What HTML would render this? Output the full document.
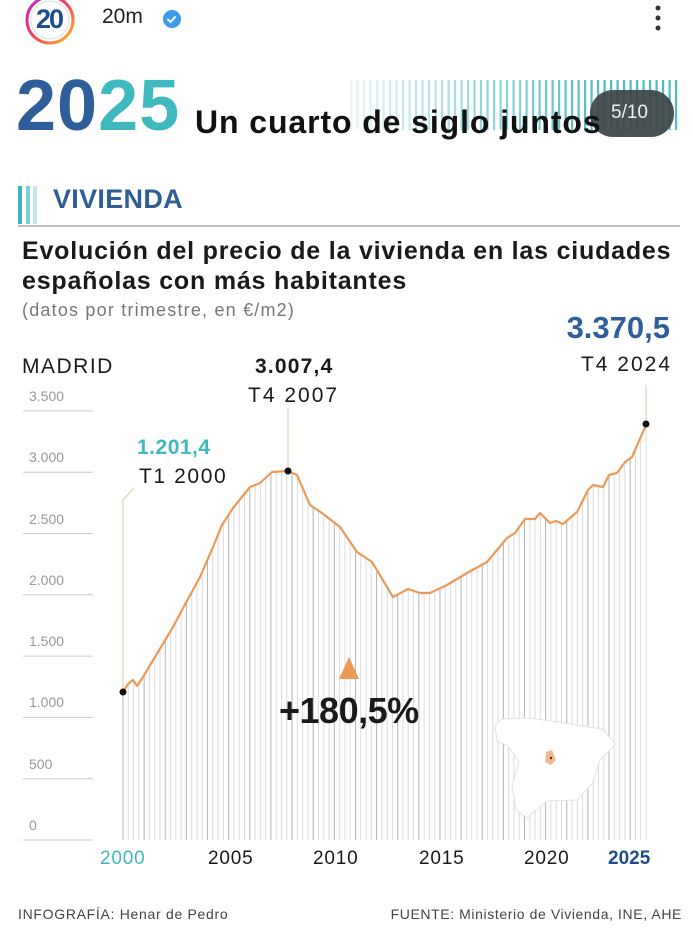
<!DOCTYPE html>
<html><head><meta charset="utf-8">
<style>
body{margin:0;width:693px;height:933px;background:#fff;overflow:hidden;font-family:"Liberation Sans",sans-serif;position:relative}
.a{position:absolute;white-space:nowrap}
</style></head><body>
<svg width="693" height="933" style="position:absolute;left:0;top:0">
<defs><linearGradient id="g" x1="0" y1="0" x2="1" y2="1"><stop offset="0" stop-color="#c026d3"/><stop offset="0.5" stop-color="#f43f5e"/><stop offset="1" stop-color="#fbbf24"/></linearGradient></defs>
<circle cx="50" cy="20" r="23" fill="none" stroke="url(#g)" stroke-width="3"/>
<circle cx="50" cy="20" r="19" fill="#fff" stroke="#ddd" stroke-width="1"/>
<circle cx="172" cy="19" r="9" fill="#3b9be8"/>
<path d="M167.5 19l3 3 5-5.5" stroke="#fff" stroke-width="2" fill="none"/>
<circle cx="658" cy="8" r="2.5" fill="#333"/><circle cx="658" cy="18" r="2.5" fill="#333"/><circle cx="658" cy="28" r="2.5" fill="#333"/>
<g id="stripes"></g>
<rect x="590" y="90" width="84" height="47" rx="23" fill="#3d4447" opacity="0.92"/>
<rect x="18" y="186" width="4" height="38" fill="#3db6c0"/><rect x="26" y="186" width="4" height="38" fill="#7fd0d6"/><rect x="33" y="186" width="4" height="38" fill="#c3e9ec"/>
<line x1="18" y1="226" x2="680" y2="226" stroke="#aaa" stroke-width="1.5"/>
<g id="grid"></g>
<g id="bars"></g>
<path d="M495,725 L502,719 L530,718 L570,724 L602,729 L616,744 L600,760 L592,784 L577,800 L547,801 L527,818 L516,810 L512,786 L519,762 L508,746 L497,741Z" fill="#fff" stroke="#e4e4e4" stroke-width="1"/>
<path d="M546,752 L552,750 L556,760 L551,765 L545,762Z" fill="#f2b98c"/>
<circle cx="551" cy="758" r="1.2" fill="#333"/>
<line x1="123" y1="692" x2="123" y2="500" stroke="#e0c8a8" stroke-width="1"/>
<line x1="123" y1="500" x2="134" y2="488" stroke="#e0c8a8" stroke-width="1"/>
<line x1="288" y1="409" x2="288" y2="471" stroke="#e0c8a8" stroke-width="1"/>
<line x1="646" y1="385" x2="646" y2="427" stroke="#e0c8a8" stroke-width="1"/>
<polyline id="line" fill="none" stroke="#eb9a57" stroke-width="2.2" stroke-linejoin="round"/>
<circle cx="123" cy="692" r="3.5" fill="#111"/><circle cx="288" cy="471" r="3.5" fill="#111"/><circle cx="646" cy="424" r="3.5" fill="#111"/>
<polygon points="339,679 349,657 359,679" fill="#eb9a57"/>
</svg>
<div class="a" style="left:36px;top:4px;font-size:27px;font-weight:bold;color:#1f4e8f;letter-spacing:-2px">20</div>
<div class="a" style="left:102px;top:5px;font-size:21px;color:#222">20m</div>
<div class="a" style="left:16px;top:66px;font-size:72px;font-weight:bold;letter-spacing:1px;line-height:80px"><span style="color:#2f5f9a">20</span><span style="color:#3fb8c0">25</span></div>
<div class="a" style="left:195px;top:104px;font-size:32px;font-weight:bold;color:#111;letter-spacing:0.9px">Un cuarto de siglo juntos</div>
<div class="a" style="left:611px;top:102px;font-size:19px;color:#eee">5/10</div>
<div class="a" style="left:53px;top:184px;font-size:27px;font-weight:bold;color:#2e5e95;letter-spacing:0.3px">VIVIENDA</div>
<div class="a" style="left:22px;top:236px;font-size:25px;font-weight:bold;color:#1a1a1a;line-height:30px;letter-spacing:0.8px">Evolución del precio de la vivienda en las ciudades<br>españolas con más habitantes</div>
<div class="a" style="left:22px;top:300px;font-size:18px;color:#777;letter-spacing:1.2px">(datos por trimestre, en €/m2)</div>
<div class="a" style="left:22px;top:355px;font-size:21px;color:#1a1a1a;letter-spacing:1.5px">MADRID</div>
<div class="a" style="left:255px;top:355px;font-size:21px;font-weight:bold;color:#1a1a1a;letter-spacing:1.2px">3.007,4</div>
<div class="a" style="left:248px;top:384px;font-size:21px;color:#1a1a1a;letter-spacing:2px">T4 2007</div>
<div class="a" style="left:137px;top:436px;font-size:21px;font-weight:bold;color:#3fb8c0;letter-spacing:0.5px">1.201,4</div>
<div class="a" style="left:139px;top:465px;font-size:21px;color:#1a1a1a;letter-spacing:1.6px">T1 2000</div>
<div class="a" style="right:23px;top:310px;font-size:31px;font-weight:bold;color:#2f5f9a">3.370,5</div>
<div class="a" style="right:21px;top:353px;font-size:21px;color:#1a1a1a;letter-spacing:2px">T4 2024</div>
<div class="a" style="left:279px;top:690px;font-size:36px;font-weight:bold;color:#1a1a1a;letter-spacing:-0.5px">+180,5%</div>
<div id="ylab"></div>
<div class="a" style="left:100px;top:848px;font-size:19px;color:#3fb8c0;letter-spacing:0.8px">2000</div>
<div class="a" style="left:208px;top:848px;font-size:19px;color:#1a1a1a;letter-spacing:0.8px">2005</div>
<div class="a" style="left:313px;top:848px;font-size:19px;color:#1a1a1a;letter-spacing:0.8px">2010</div>
<div class="a" style="left:419px;top:848px;font-size:19px;color:#1a1a1a;letter-spacing:0.8px">2015</div>
<div class="a" style="left:524px;top:848px;font-size:19px;color:#1a1a1a;letter-spacing:0.8px">2020</div>
<div class="a" style="left:608px;top:848px;font-size:19px;font-weight:bold;color:#1f4e8f">2025</div>
<div class="a" style="left:18px;top:906px;font-size:14px;color:#444;letter-spacing:0.7px">INFOGRAFÍA: Henar de Pedro</div>
<div class="a" style="right:11px;top:906px;font-size:14px;color:#444;letter-spacing:0.6px">FUENTE: Ministerio de Vivienda, INE, AHE</div>
<script>
var NS="http://www.w3.org/2000/svg";
function el(p,t,a){var e=document.createElementNS(NS,t);for(var k in a)e.setAttribute(k,a[k]);p.appendChild(e);return e;}
var st=document.getElementById('stripes');
for(var x=350;x<=680;x+=6.5){var o=Math.min(1,(x-350)/250);el(st,'rect',{x:x,y:80,width:2.2,height:50,fill:'#3db6c0',opacity:(0.12+0.8*o).toFixed(2)});}
var gr=document.getElementById('grid'),yl=document.getElementById('ylab');
var labs=['0','500','1.000','1.500','2.000','2.500','3.000','3.500'];
for(var i=0;i<8;i++){var y=840-i*61.3;el(gr,'line',{x1:23,x2:93,y1:y,y2:y,stroke:'#ccc','stroke-width':1});
var d=document.createElement('div');d.className='a';d.style.cssText='left:29px;top:'+(y-23)+'px;font-size:14px;color:#999';d.textContent=labs[i];yl.appendChild(d);}
var P=[[123,692],[128,684],[133,680],[137,686],[143,677],[158,652],[173,627],[182,610],[200,577],[213,547],[222,525],[233,508],[250,487],[260,483],[272,472],[287,471],[297,475],[310,505],[322,513],[340,527],[357,552],[372,562],[393,597],[408,589],[420,593],[430,593],[447,585],[467,573],[487,562],[507,538],[515,533],[525,519],[535,519],[540,513],[550,523],[556,521],[563,524],[577,512],[588,490],[593,485],[603,487],[609,475],[617,473],[625,462],[632,457],[646,425]];
document.getElementById('line').setAttribute('points',P.map(function(p){return p.join(',')}).join(' '));
function yAt(x){for(var i=0;i<P.length-1;i++){if(x<=P[i+1][0]){var t=(x-P[i][0])/(P[i+1][0]-P[i][0]);return P[i][1]+t*(P[i+1][1]-P[i][1]);}}return P[P.length-1][1];}
var b=document.getElementById('bars');
for(var q=0;q<100;q++){var x=123+q*523/99;el(b,'line',{x1:x,x2:x,y1:yAt(x),y2:840,stroke:q%4==0?'#b4b4b4':'#dcdcdc','stroke-width':1});}
</script>
</body></html>
